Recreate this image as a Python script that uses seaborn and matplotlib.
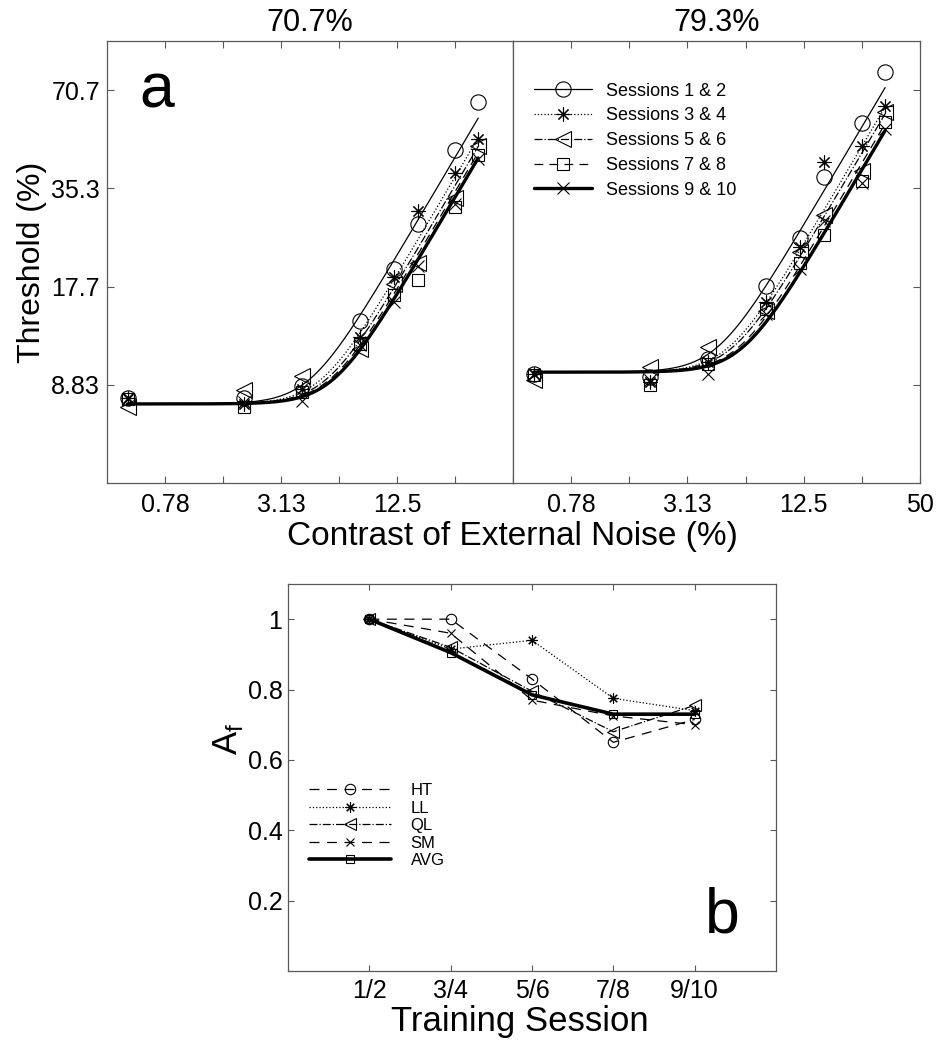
import numpy as np
import pandas as pd
import matplotlib
matplotlib.use("Agg")
import matplotlib.pyplot as plt
import seaborn as sns
from matplotlib.lines import Line2D

# external noise contrast (%) ; zero noise is drawn at 0.5 on the log axis
noise = [0, 2, 4, 8, 12, 16, 25, 33]
zero_pos = 0.5

session_labels = ["Sessions 1 & 2", "Sessions 3 & 4", "Sessions 5 & 6",
                  "Sessions 7 & 8", "Sessions 9 & 10"]

# thresholds (%) at 70.7% correct
thr707_s12 = [8.04, 8.04, 8.79, 13.9, 20.0, 27.4, 46.4, 64.8]
thr707_s34 = [8.04, 7.71, 8.58, 12.4, 18.9, 30.2, 39.5, 50.1]
thr707_s56 = [7.53, 8.50, 9.42, 11.4, 18.0, 20.9, 33.1, 47.7]
thr707_s78 = [8.01, 7.53, 8.38, 11.8, 16.6, 18.5, 30.9, 44.8]
thr707_s910 = [8.00, 7.81, 7.90, 11.7, 15.8, 20.5, 31.6, 43.5]

# thresholds (%) at 79.3% correct
thr793_s12 = [9.55, 9.33, 10.6, 17.8, 24.9, 38.2, 55.9, 80.6]
thr793_s34 = [9.55, 9.00, 10.4, 15.8, 23.4, 42.6, 47.7, 63.3]
thr793_s56 = [9.11, 10.0, 11.5, 14.9, 22.5, 29.3, 40.0, 60.4]
thr793_s78 = [9.45, 8.83, 10.25, 15.1, 20.9, 25.5, 37.3, 56.3]
thr793_s910 = [9.55, 9.11, 9.55, 14.6, 20.0, 28.1, 36.8, 53.7]

# fitted model curves: floor threshold and knee noise per session
floor707 = 7.72
knee707 = [4.39, 5.04, 5.36, 5.60, 5.82]
floor793 = 9.66
knee793 = [4.43, 5.08, 5.33, 5.72, 6.00]

# panel b: Af per observer
sessions_b = ["1/2", "3/4", "5/6", "7/8", "9/10"]
af_ht = [1.0, 1.0, 0.83, 0.65, 0.715]
af_ll = [1.0, 0.915, 0.94, 0.775, 0.74]
af_ql = [1.0, 0.92, 0.795, 0.68, 0.755]
af_sm = [1.0, 0.96, 0.77, 0.725, 0.70]
af_avg = [1.0, 0.905, 0.785, 0.73, 0.73]

sns.set_style("ticks")
plt.rcParams['font.family'] = ['Liberation Sans', 'DejaVu Sans']
plt.rcParams['mathtext.fontset'] = 'custom'
plt.rcParams['mathtext.rm'] = 'Liberation Sans'
plt.rcParams['text.color'] = 'black'
plt.rcParams['axes.labelcolor'] = 'black'

W, H = 945, 1050
fig = plt.figure(figsize=(W / 100, H / 100), dpi=100)
ax1 = fig.add_axes([107 / W, 1 - 483 / H, 406 / W, 442 / H])
ax2 = fig.add_axes([513 / W, 1 - 483 / H, 407 / W, 442 / H])
ax3 = fig.add_axes([288 / W, 1 - 971 / H, 488 / W, 387 / H])

markers = ['o', (8, 2, 0), '<', 's', 'x']
msizes = [11, 10, 11, 8, 9]
lstyles = ['-', ':', '-.', (0, (7, 5)), '-']
lwidths = [0.9, 0.9, 0.9, 0.9, 2.4]

xpos = [zero_pos] + noise[1:]
grid = np.geomspace(zero_pos, 33, 300)


def draw_panel(ax, series, floor, knees):
    for i, vals in enumerate(series):
        curve = floor * (1 + (grid / knees[i]) ** 4) ** 0.25
        sns.lineplot(x=grid, y=curve, ax=ax, color='k', lw=lwidths[i],
                     linestyle=lstyles[i], errorbar=None, sort=False)
    for i, vals in enumerate(series):
        sns.lineplot(x=xpos, y=vals, ax=ax, color='k', linestyle='none',
                     marker=markers[i], ms=msizes[i], mfc='none', mec='k',
                     mew=0.8, errorbar=None)
    ax.set_xscale('log')
    ax.set_yscale('log')
    ax.set_xlim(50 / 128, 50)
    ax.set_ylim(70.7 / 16, 70.7 * np.sqrt(2))
    ax.set_xticks([50 / 64 * 2 ** k for k in range(7)])
    ax.set_yticks([70.7 / 8, 70.7 / 4, 70.7 / 2, 70.7])
    ax.minorticks_off()
    ax.tick_params(direction='in', length=5, width=0.8, color='0.35',
                   labelcolor='k', top=True, labelsize=18, pad=7)
    for s in ax.spines.values():
        s.set_color('0.35')
        s.set_linewidth(0.9)
    ax.set_xlabel('')
    ax.set_ylabel('')


draw_panel(ax1, [thr707_s12, thr707_s34, thr707_s56, thr707_s78, thr707_s910],
           floor707, knee707)
draw_panel(ax2, [thr793_s12, thr793_s34, thr793_s56, thr793_s78, thr793_s910],
           floor793, knee793)

ax1.set_xticklabels(['0.78', '', '3.13', '', '12.5', '', ''])
ax1.set_yticklabels(['8.83', '17.7', '35.3', '70.7'])
ax1.tick_params(axis='y', pad=5)
ax1.set_ylabel('Threshold (%)', fontsize=23, labelpad=3)
ax1.set_title('70.7%', fontsize=22, pad=7)
ax1.text(0.08, 0.85, 'a', transform=ax1.transAxes, fontsize=45)

ax2.set_xticklabels(['0.78', '', '3.13', '', '12.5', '', '50'])
ax2.tick_params(left=False, right=True, labelleft=False)
ax2.set_title('79.3%', fontsize=22, pad=7)

handles = [Line2D([], [], color='k', ls=lstyles[i], lw=lwidths[i],
                  marker=markers[i], ms=msizes[i], mfc='none', mec='k', mew=0.8)
           for i in range(5)]
ax2.legend(handles, session_labels, loc='upper left',
           bbox_to_anchor=(0.052, 0.906), frameon=False, fontsize=13,
           handlelength=3.2, handletextpad=0.8, labelspacing=0.43,
           borderpad=0, borderaxespad=0)

fig.text(512 / W, 1 - 536 / H, 'Contrast of External Noise (%)',
         fontsize=24, ha='center', va='center')

# panel b
xb = np.arange(1, 6)
b_series = [af_ht, af_ll, af_ql, af_sm, af_avg]
b_labels = ['HT', 'LL', 'QL', 'SM', 'AVG']
b_markers = ['o', (8, 2, 0), '<', 'x', 's']
b_ms = [7.5, 7.5, 8, 6, 5.5]
b_ls = [(0, (8, 6)), ':', '-.', (0, (8, 6)), '-']
b_lw = [0.9, 0.9, 0.9, 0.9, 2.6]
for i, vals in enumerate(b_series):
    sns.lineplot(x=xb, y=vals, ax=ax3, color='k', linestyle=b_ls[i],
                 lw=b_lw[i], marker=b_markers[i], ms=b_ms[i], mfc='none',
                 mec='k', mew=0.8, errorbar=None, label=b_labels[i])
ax3.set_xlim(0, 6)
ax3.set_ylim(0, 1.1)
ax3.set_xticks(xb)
ax3.set_xticklabels(sessions_b)
ax3.set_yticks([0.2, 0.4, 0.6, 0.8, 1.0])
ax3.set_yticklabels(['0.2', '0.4', '0.6', '0.8', '1'])
ax3.tick_params(direction='in', length=4, width=0.8, color='0.35',
                labelcolor='k', top=True, right=True, labelsize=18, pad=6)
ax3.tick_params(axis='y', pad=4)
for s in ax3.spines.values():
    s.set_color('0.35')
    s.set_linewidth(0.9)
ax3.set_xlabel('Training Session', fontsize=25)
ax3.xaxis.set_label_coords(0.475, -0.088)
ax3.set_ylabel(r'A$_\mathregular{f}$', fontsize=25)
ax3.yaxis.set_label_coords(-0.088, 0.6)
ax3.legend(loc='upper left', bbox_to_anchor=(0.043, 0.485), frameon=False,
           fontsize=12, handlelength=4.9, handletextpad=1.2,
           labelspacing=0.15, borderpad=0, borderaxespad=0)
ax3.text(0.855, 0.1, 'b', transform=ax3.transAxes, fontsize=45)

fig.savefig('out.png', dpi=100, facecolor='white')
